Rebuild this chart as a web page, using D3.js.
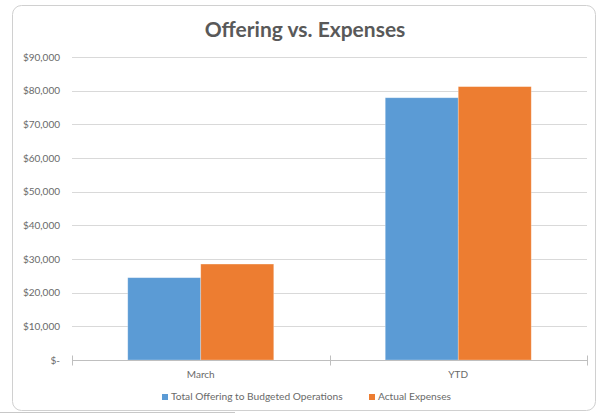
<!DOCTYPE html>
<html>
<head>
<meta charset="utf-8">
<script src="https://cdn.jsdelivr.net/npm/d3@7"></script>
<style>
  body { margin: 0; background: #fff; }
  text { font-family: Lato, "Open Sans", sans-serif; fill: #595959; }
</style>
</head>
<body>
<div id="chart"></div>
<script>
// chart data
var categories = ["March", "YTD"];
var seriesNames = ["Total Offering to Budgeted Operations", "Actual Expenses"];
var offering = [24450, 77900];
var expenses = [28500, 81200];
var yTicks = [0, 10000, 20000, 30000, 40000, 50000, 60000, 70000, 80000, 90000];
var colors = ["#5B9BD5", "#ED7D31"];

var width = 605, height = 414;
var margin = {top: 57, right: 18, bottom: 54, left: 72};

var svg = d3.select("#chart").append("svg")
  .attr("width", width)
  .attr("height", height);

// frame of the chart
svg.append("rect")
  .attr("x", 12.5).attr("y", 5.5)
  .attr("width", 583).attr("height", 405)
  .attr("rx", 9)
  .style("fill", "#fff")
  .style("stroke", "#d0d0d0")
  .style("stroke-width", 1);

// stray line below the frame
svg.append("line")
  .attr("x1", 0).attr("x2", 235)
  .attr("y1", 412.5).attr("y2", 412.5)
  .style("stroke", "#c8c8c8");

svg.append("text")
  .attr("x", 305).attr("y", 37)
  .attr("text-anchor", "middle")
  .style("font-size", "21px")
  .style("font-weight", "bold")
  .text("Offering vs. Expenses");

var x0 = d3.scaleBand()
  .domain(categories)
  .range([margin.left, width - margin.right])
  .paddingInner(0.433)
  .paddingOuter(0.2165);

var x1 = d3.scaleBand()
  .domain([0, 1])
  .range([0, x0.bandwidth()]);

var y = d3.scaleLinear()
  .domain([0, 90000])
  .range([height - margin.bottom, margin.top]);

// gridlines
svg.append("g")
  .selectAll("line")
  .data(yTicks.slice(1))
  .enter().append("line")
    .attr("x1", margin.left).attr("x2", width - margin.right)
    .attr("y1", function(d) { return Math.round(y(d)) + 0.5; })
    .attr("y2", function(d) { return Math.round(y(d)) + 0.5; })
    .style("stroke", "#d9d9d9");

// y axis labels
var fmt = d3.format(",");
svg.append("g")
  .selectAll("text")
  .data(yTicks)
  .enter().append("text")
    .attr("x", 60)
    .attr("y", function(d) { return y(d) + 3.5; })
    .attr("text-anchor", "end")
    .style("font-size", "10px")
    .style("fill", "#6a6a6a")
    .text(function(d) { return d === 0 ? "$-" : "$" + fmt(d); });

// bars
var rows = categories.map(function(c, i) { return {cat: c, vals: [offering[i], expenses[i]]}; });
svg.append("g")
  .selectAll("g")
  .data(rows)
  .enter().append("g")
    .attr("transform", function(d) { return "translate(" + x0(d.cat) + ",0)"; })
  .selectAll("rect")
  .data(function(d) { return d.vals; })
  .enter().append("rect")
    .attr("x", function(d, i) { return x1(i); })
    .attr("y", function(d) { return y(d); })
    .attr("width", x1.bandwidth())
    .attr("height", function(d) { return y(0) - y(d); })
    .style("fill", function(d, i) { return colors[i]; })
    .style("stroke", "#fff")
    .style("stroke-opacity", 0.35)
    .style("stroke-width", 0.75);

// category axis
var axisY = Math.round(y(0)) + 0.5;
svg.append("line")
  .attr("x1", margin.left).attr("x2", width - margin.right)
  .attr("y1", axisY).attr("y2", axisY)
  .style("stroke", "#bfbfbf");

var edges = [margin.left, margin.left + x0.step(), width - margin.right];
svg.append("g")
  .selectAll("line")
  .data(edges)
  .enter().append("line")
    .attr("x1", function(d) { return Math.round(d) + 0.5; })
    .attr("x2", function(d) { return Math.round(d) + 0.5; })
    .attr("y1", axisY - 5).attr("y2", axisY + 5)
    .style("stroke", "#bfbfbf");

svg.append("g")
  .selectAll("text")
  .data(categories)
  .enter().append("text")
    .attr("x", function(d) { return x0(d) + x0.bandwidth() / 2; })
    .attr("y", 378)
    .attr("text-anchor", "middle")
    .style("font-size", "10px")
    .style("fill", "#6a6a6a")
    .text(function(d) { return d; });

// legend
var legendX = [162, 369];
var legend = svg.append("g")
  .selectAll("g")
  .data(seriesNames)
  .enter().append("g")
    .attr("transform", function(d, i) { return "translate(" + legendX[i] + ",400)"; });

legend.append("rect")
  .attr("x", 0).attr("y", -6)
  .attr("width", 6).attr("height", 6)
  .style("fill", function(d, i) { return colors[i]; });

legend.append("text")
  .attr("x", 9).attr("y", 0)
  .style("font-size", "10.2px")
  .style("fill", "#6a6a6a")
  .text(function(d) { return d; });
</script>
</body>
</html>
